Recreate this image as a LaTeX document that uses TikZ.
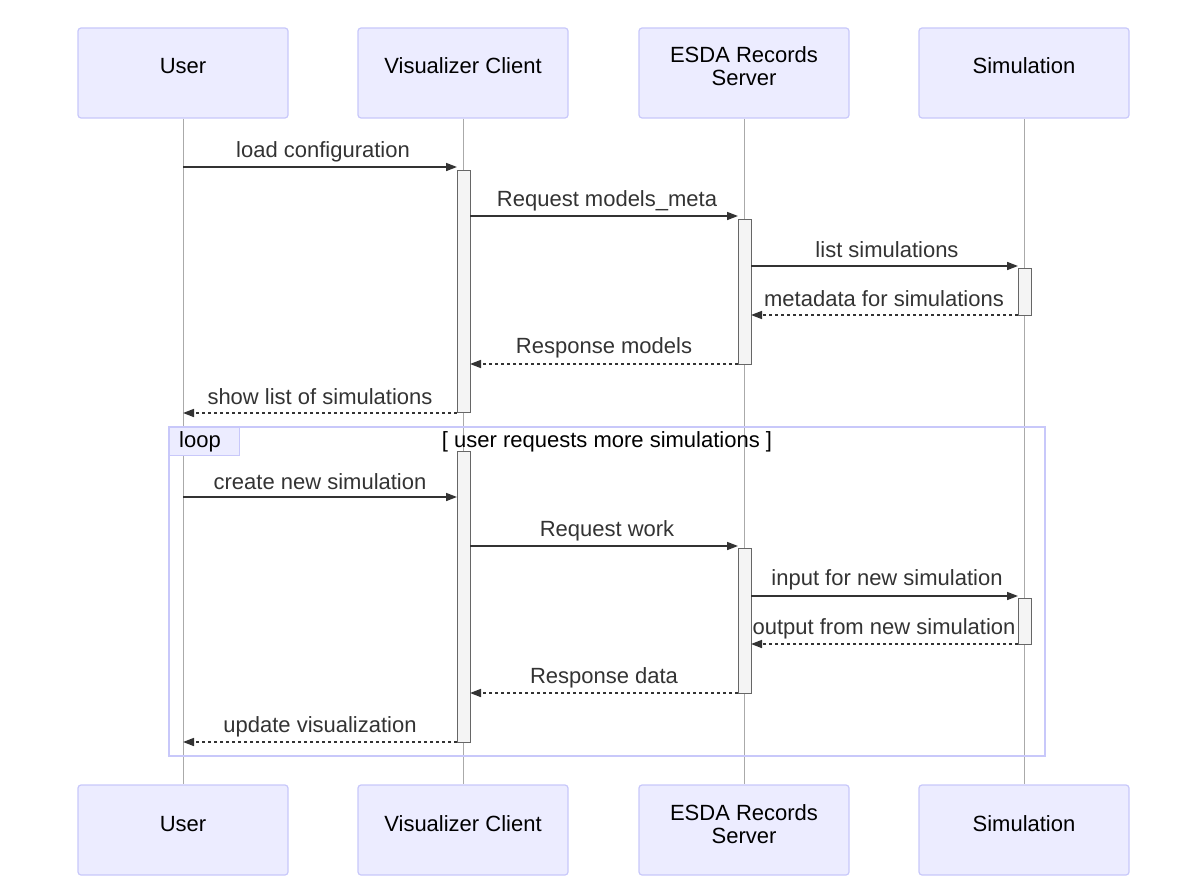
\documentclass[tikz,border=0pt]{standalone}
\usepackage{fontspec}
\setmainfont{Liberation Sans}
\usetikzlibrary{arrows.meta}
\definecolor{actfill}{HTML}{ECECFF}
\definecolor{actline}{HTML}{C8C8FA}
\definecolor{lifeline}{HTML}{AAAAAA}
\definecolor{barfill}{HTML}{F4F4F4}
\definecolor{barline}{HTML}{666666}
\definecolor{msg}{HTML}{333333}
\tikzset{
  actor/.style={draw=actline, fill=actfill, rounded corners=3pt, line width=1.2pt,
    minimum width=210pt, minimum height=90pt, inner sep=0pt},
  actortext/.style={align=center, inner sep=0pt, font=\fontsize{22}{23}\selectfont, text=black},
  life/.style={draw=lifeline, line width=0.8pt},
  bar/.style={draw=barline, fill=barfill, line width=0.8pt, minimum width=13pt, inner sep=0pt},
  sync/.style={draw=msg, line width=1.6pt, -{Triangle[length=11pt,width=8pt]}},
  reply/.style={sync, dash pattern=on 3pt off 3pt},
  lbl/.style={font=\fontsize{22}{23}\selectfont, text=msg, inner sep=0pt},
}
\begin{document}
\begin{tikzpicture}[x=1pt,y=-1pt]
\useasboundingbox (0,0) rectangle (1200,891);
% actors
\node[actor] (uT) at (183,73) {};
\node[actor] (vT) at (463,73) {};
\node[actor] (eT) at (744,73) {};
\node[actor] (sT) at (1024,73) {};
\node[actor] (uB) at (183,830) {};
\node[actor] (vB) at (463,830) {};
\node[actor] (eB) at (744,830) {};
\node[actor] (sB) at (1024,830) {};
\node[actortext] (uTt) at (183,66) {User};
\node[actortext] (vTt) at (463,66) {Visualizer Client};
\node[actortext] (eTt) at (744,66) {ESDA Records\\Server};
\node[actortext] (sTt) at (1024,66) {Simulation};
\node[actortext] (uBt) at (183,824) {User};
\node[actortext] (vBt) at (463,824) {Visualizer Client};
\node[actortext] (eBt) at (744,824) {ESDA Records\\Server};
\node[actortext] (sBt) at (1024,824) {Simulation};
% lifelines
\draw[life] (uT.south) -- (uB.north);
\draw[life] (vT.south) -- (vB.north);
\draw[life] (eT.south) -- (eB.north);
\draw[life] (sT.south) -- (sB.north);
% loop frame
\draw[actline, line width=2pt] (169,427) rectangle (1045,756);
\node[draw=actline, fill=actfill, line width=1pt, minimum width=70pt, minimum height=28pt, anchor=north west, inner sep=0pt] (loopbox) at (169,427) {};
\node[lbl, text=black, anchor=west] (looplbl) at (179,442) {loop};
\node[lbl, text=black] (cond) at (607,442) {[ user requests more simulations ]};
% activation bars (first block)
\node[bar, minimum height=242pt] (va1) at (463.5,291) {};
\node[bar, minimum height=145pt] (ea1) at (744.5,291.5) {};
\node[bar, minimum height=47pt] (sa1) at (1024.5,291.5) {};
% activation bars (loop)
\node[bar, minimum height=291pt] (va2) at (463.5,596.5) {};
\node[bar, minimum height=145pt] (ea2) at (744.5,620.5) {};
\node[bar, minimum height=46pt] (sa2) at (1024.5,621) {};
% endpoints
\coordinate (m1a) at (183,167); \coordinate (m1b) at (457,167);
\coordinate (m2a) at (470,216); \coordinate (m2b) at (738,216);
\coordinate (m3a) at (751,266); \coordinate (m3b) at (1018,266);
\coordinate (m4a) at (1018,315); \coordinate (m4b) at (751,315);
\coordinate (m5a) at (738,364); \coordinate (m5b) at (470,364);
\coordinate (m6a) at (457,413); \coordinate (m6b) at (183,413);
\coordinate (n1a) at (183,497); \coordinate (n1b) at (457,497);
\coordinate (n2a) at (470,546); \coordinate (n2b) at (738,546);
\coordinate (n3a) at (751,596); \coordinate (n3b) at (1018,596);
\coordinate (n4a) at (1018,644); \coordinate (n4b) at (751,644);
\coordinate (n5a) at (738,693); \coordinate (n5b) at (470,693);
\coordinate (n6a) at (457,742); \coordinate (n6b) at (183,742);
% messages
\draw[sync] (m1a) -- (m1b);
\node[lbl] (l1) at (323,152) {load configuration};
\draw[sync] (m2a) -- (m2b);
\node[lbl] (l2) at (607,201) {Request models\_meta};
\draw[sync] (m3a) -- (m3b);
\node[lbl] (l3) at (887,250) {list simulations};
\draw[reply] (m4a) -- (m4b);
\node[lbl] (l4) at (884,299) {metadata for simulations};
\draw[reply] (m5a) -- (m5b);
\node[lbl] (l5) at (604,348) {Response models};
\draw[reply] (m6a) -- (m6b);
\node[lbl] (l6) at (320,397) {show list of simulations};
\draw[sync] (n1a) -- (n1b);
\node[lbl] (k1) at (320,482) {create new simulation};
\draw[sync] (n2a) -- (n2b);
\node[lbl] (k2) at (607,531) {Request work};
\draw[sync] (n3a) -- (n3b);
\node[lbl] (k3) at (887,580) {input for new simulation};
\draw[reply] (n4a) -- (n4b);
\node[lbl] (k4) at (884,629) {output from new simulation};
\draw[reply] (n5a) -- (n5b);
\node[lbl] (k5) at (604,678) {Response data};
\draw[reply] (n6a) -- (n6b);
\node[lbl] (k6) at (320,727) {update visualization};
\end{tikzpicture}
\end{document}
